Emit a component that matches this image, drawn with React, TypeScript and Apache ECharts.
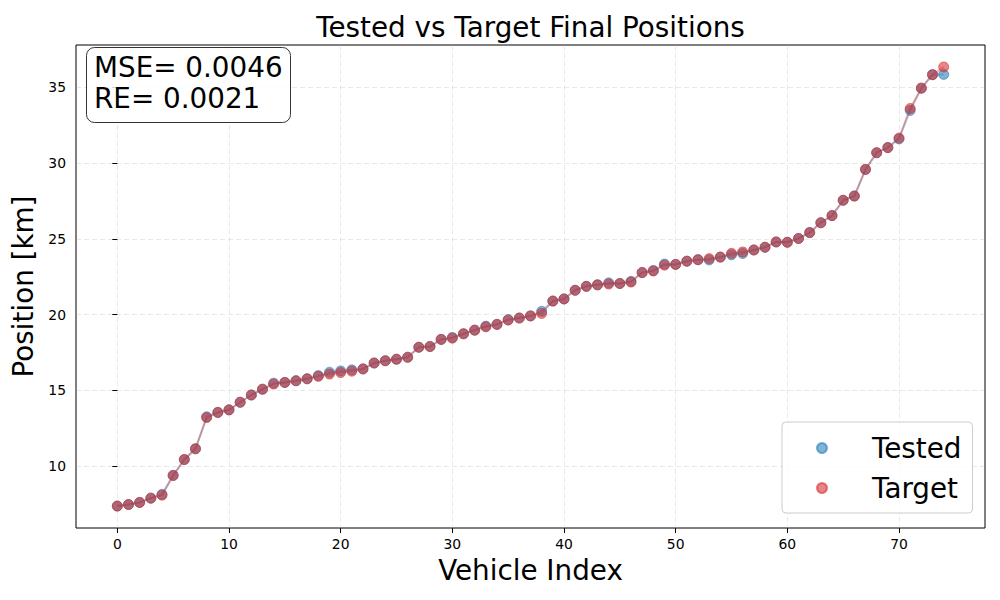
import React, { useEffect, useRef } from "react";
import * as echarts from "echarts";

const tested: number[] = [
  7.37, 7.47, 7.61, 7.89, 8.14, 9.39, 10.44, 11.15, 13.26, 13.55,
  13.72, 14.22, 14.7, 15.08, 15.48, 15.53, 15.64, 15.77, 15.98, 16.2,
  16.29, 16.36, 16.42, 16.81, 16.96, 17.06, 17.19, 17.85, 17.9, 18.37,
  18.5, 18.74, 18.98, 19.24, 19.36, 19.68, 19.78, 19.92, 20.22, 20.9,
  21.04, 21.61, 21.87, 21.97, 22.1, 22.06, 22.2, 22.78, 22.92, 23.34,
  23.32, 23.53, 23.63, 23.61, 23.8, 23.95, 24.04, 24.27, 24.45, 24.8,
  24.78, 25.03, 25.42, 26.07, 26.54, 27.55, 27.83, 29.59, 30.69, 31.03,
  31.6, 33.48, 34.95, 35.84, 35.86,
];

const target: number[] = [
  7.37, 7.47, 7.61, 7.89, 8.09, 9.39, 10.44, 11.15, 13.21, 13.55,
  13.72, 14.22, 14.7, 15.08, 15.42, 15.53, 15.64, 15.77, 15.93, 16.08,
  16.18, 16.27, 16.42, 16.81, 16.96, 17.06, 17.19, 17.85, 17.9, 18.37,
  18.45, 18.74, 18.98, 19.2, 19.36, 19.64, 19.78, 19.92, 20.08, 20.9,
  21.04, 21.61, 21.87, 21.97, 22.02, 22.06, 22.15, 22.78, 22.88, 23.27,
  23.32, 23.53, 23.63, 23.7, 23.8, 24.05, 24.14, 24.27, 24.45, 24.8,
  24.78, 25.03, 25.42, 26.07, 26.54, 27.55, 27.83, 29.59, 30.69, 31.03,
  31.66, 33.61, 34.95, 35.84, 36.35,
];

const xTicks: number[] = [0, 10, 20, 30, 40, 50, 60, 70];
const yTicks: number[] = [10, 15, 20, 25, 30, 35];

const titleText = "Tested vs Target Final Positions";
const xName = "Vehicle Index";
const yName = "Position [km]";
const statsLines: string[] = ["MSE= 0.0046", "RE= 0.0021"];

const FONT = "DejaVu Sans";

export default function App() {
  const ref = useRef<HTMLDivElement>(null);

  useEffect(() => {
    if (!ref.current) return;
    const chart = echarts.init(ref.current, undefined, { renderer: "svg" });

    const testedPts = tested.map((v, i) => [i, v]);
    const targetPts = target.map((v, i) => [i, v]);

    const n = tested.length - 1;
    const xMargin = n * 0.05;
    const all = tested.concat(target);
    const yLo = Math.min(...all);
    const yHi = Math.max(...all);
    const yMargin = (yHi - yLo) * 0.05;

    const tickLabel = { fontSize: 13.9, fontFamily: FONT, color: "#000" };
    const gridLine = { color: "rgba(176,176,176,0.35)", width: 0.8, type: [5, 3] };

    chart.setOption({
      animation: false,
      grid: {
        left: 76,
        right: 15,
        top: 45,
        bottom: 72,
        show: true,
        borderColor: "#000",
        borderWidth: 1,
        backgroundColor: "transparent",
      },
      xAxis: {
        type: "value",
        min: -xMargin,
        max: n + xMargin,
        name: xName,
        nameLocation: "middle",
        nameGap: 28,
        nameTextStyle: { fontSize: 27.8, fontFamily: FONT, color: "#000" },
        axisLine: { show: false },
        axisTick: {
          show: true,
          inside: false,
          length: 5,
          customValues: xTicks,
          lineStyle: { color: "#000", width: 1 },
        },
        axisLabel: { ...tickLabel, margin: 9, customValues: xTicks },
        splitLine: { show: true, lineStyle: gridLine },
      },
      yAxis: {
        type: "value",
        min: yLo - yMargin,
        max: yHi + yMargin,
        name: yName,
        nameLocation: "middle",
        nameGap: 34,
        nameTextStyle: { fontSize: 27.8, fontFamily: FONT, color: "#000" },
        axisLine: { show: false },
        axisTick: {
          show: true,
          inside: false,
          length: 5,
          customValues: yTicks,
          lineStyle: { color: "#000", width: 1 },
        },
        axisLabel: { ...tickLabel, margin: 10, customValues: yTicks },
        splitLine: { show: true, lineStyle: gridLine },
      },
      legend: {
        orient: "vertical",
        left: 782,
        top: 422,
        data: ["Tested", "Target"],
        icon: "circle",
        itemWidth: 10,
        itemHeight: 10,
        itemGap: 12,
        padding: [12, 11, 11, 34],
        backgroundColor: "rgba(255,255,255,0.8)",
        borderColor: "#cccccc",
        borderWidth: 1,
        borderRadius: 4,
        formatter: (name: string) => `{g|}{t|${name}}`,
        textStyle: {
          fontSize: 27.8,
          fontFamily: FONT,
          color: "#000",
          rich: {
            g: { width: 40 },
            t: { fontSize: 27.8, fontFamily: FONT, color: "#000" },
          },
        },
      },
      graphic: [
        {
          type: "text",
          x: 530.5,
          y: 27,
          style: {
            text: titleText,
            fontSize: 27.8,
            fontFamily: FONT,
            fill: "#000",
            align: "center",
            verticalAlign: "middle",
          },
        },
        {
          type: "rect",
          shape: { x: 86.5, y: 47.5, width: 204, height: 75, r: 8 },
          style: { fill: "rgba(255,255,255,0.8)", stroke: "#333", lineWidth: 1 },
          z: 100,
        },
        {
          type: "text",
          x: 94,
          y: 67,
          z: 101,
          style: {
            text: statsLines[0],
            fontSize: 27.8,
            fontFamily: FONT,
            fill: "#000",
            verticalAlign: "middle",
          },
        },
        {
          type: "text",
          x: 94,
          y: 98.5,
          z: 101,
          style: {
            text: statsLines[1],
            fontSize: 27.8,
            fontFamily: FONT,
            fill: "#000",
            verticalAlign: "middle",
          },
        },
      ],
      series: [
        {
          name: "Tested line",
          type: "line",
          data: testedPts,
          showSymbol: false,
          symbol: "none",
          lineStyle: { color: "rgba(31,119,180,0.35)", width: 2 },
          z: 1,
          silent: true,
        },
        {
          name: "Target line",
          type: "line",
          data: targetPts,
          showSymbol: false,
          symbol: "none",
          lineStyle: { color: "rgba(214,39,40,0.35)", width: 2 },
          z: 1,
          silent: true,
        },
        {
          name: "Tested",
          type: "scatter",
          data: testedPts,
          symbolSize: 10,
          itemStyle: {
            color: "rgba(31,119,180,0.7)",
            borderColor: "rgba(31,119,180,0.7)",
            borderWidth: 1,
          },
          z: 2,
        },
        {
          name: "Target",
          type: "scatter",
          data: targetPts,
          symbolSize: 10,
          itemStyle: {
            color: "rgba(214,39,40,0.7)",
            borderColor: "rgba(214,39,40,0.7)",
            borderWidth: 1,
          },
          z: 3,
        },
      ],
    });

    return () => chart.dispose();
  }, []);

  return (
    <div
      ref={ref}
      style={{ position: "fixed", left: 0, top: 0, width: 1000, height: 600, background: "#fff" }}
    />
  );
}
